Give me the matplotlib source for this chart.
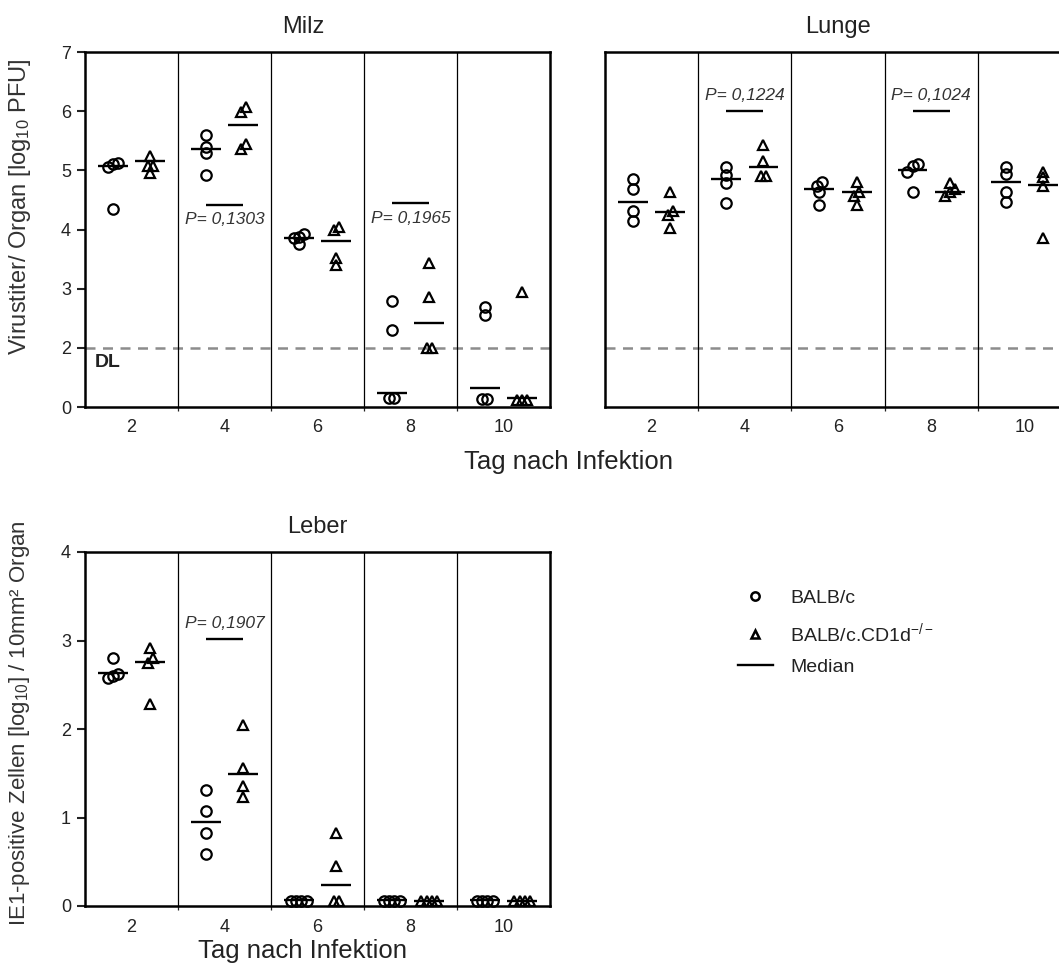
import numpy as np
import matplotlib
matplotlib.use("Agg")
import matplotlib.pyplot as plt
from matplotlib.lines import Line2D

plt.rcParams['font.family'] = ['Liberation Sans', 'DejaVu Sans']
plt.rcParams['mathtext.fontset'] = 'custom'
plt.rcParams['mathtext.rm'] = 'Liberation Sans'
plt.rcParams['mathtext.it'] = 'Liberation Sans:italic'
plt.rcParams['text.color'] = '#222222'
plt.rcParams['xtick.color'] = '#222222'
plt.rcParams['ytick.color'] = '#222222'

# Tage nach Infektion
days = [2, 4, 6, 8, 10]

# Milz: Virustiter [log10 PFU], Werte unter DL nahe 0
milz_balbc = [[5.10, 5.05, 5.12, 4.35], [5.60, 5.40, 5.30, 4.92], [3.92, 3.85, 3.88, 3.75],
              [2.80, 2.30, 0.30, 0.30], [2.69, 2.56, 0.27, 0.27]]
milz_balbc_med = [5.08, 5.36, 3.86, 0.47, 0.64]
milz_cd1d = [[5.24, 5.07, 5.07, 4.96], [6.07, 5.98, 5.44, 5.36], [4.05, 4.00, 3.52, 3.40],
             [3.44, 2.86, 2.00, 2.00], [2.95, 0.24, 0.24, 0.24]]
milz_cd1d_med = [5.15, 5.76, 3.80, 2.42, 0.30]

# Lunge
lunge_balbc = [[4.85, 4.68, 4.31, 4.14], [5.05, 4.92, 4.78, 4.44], [4.81, 4.73, 4.63, 4.42],
               [5.10, 5.07, 4.98, 4.63], [5.05, 4.93, 4.64, 4.46]]
lunge_balbc_med = [4.47, 4.85, 4.68, 5.00, 4.80]
lunge_cd1d = [[4.64, 4.31, 4.25, 4.02], [5.42, 5.15, 4.90, 4.90], [4.81, 4.64, 4.56, 4.42],
              [4.78, 4.68, 4.64, 4.56], [4.98, 4.88, 4.73, 3.86]]
lunge_cd1d_med = [4.29, 5.05, 4.63, 4.64, 4.76]

# Leber: IE1-positive Zellen [log10] / 10mm2
leber_balbc = [[2.80, 2.62, 2.60, 2.58], [1.31, 1.07, 0.83, 0.59], [0.06, 0.06, 0.06, 0.06],
               [0.06, 0.06, 0.06, 0.06], [0.06, 0.06, 0.06, 0.06]]
leber_balbc_med = [2.63, 0.95, 0.07, 0.07, 0.07]
leber_cd1d = [[2.92, 2.80, 2.75, 2.28], [2.04, 1.56, 1.36, 1.23], [0.82, 0.45, 0.06, 0.06],
              [0.06, 0.06, 0.06, 0.06], [0.06, 0.06, 0.06, 0.06]]
leber_cd1d_med = [2.76, 1.49, 0.24, 0.06, 0.06]

# P-Werte (Index des Tages, Hoehe der Linie, Text)
milz_p_idx, milz_p_y, milz_p_txt = [1, 3], [4.42, 4.44], ['P= 0,1303', 'P= 0,1965']
lunge_p_idx, lunge_p_y, lunge_p_txt = [1, 3], [6.0, 6.0], ['P= 0,1224', 'P= 0,1024']
leber_p_idx, leber_p_y, leber_p_txt = [1], [3.02], ['P= 0,1907']

detection_limit = 2


def spread(vals, tol=0.1, step=0.055):
    # gleiche Werte nebeneinander legen
    vals = np.asarray(vals, float)
    order = np.argsort(vals)
    offs = np.zeros(len(vals))
    groups = [[order[0]]]
    for i in order[1:]:
        if vals[i] - vals[groups[-1][-1]] < tol:
            groups[-1].append(i)
        else:
            groups.append([i])
    for g in groups:
        offs[g] = (np.arange(len(g)) - (len(g) - 1) / 2) * step
    return offs


def draw_panel(ax, balbc, balbc_med, cd1d, cd1d_med):
    for i in range(len(days)):
        for vals, med, dx, mk in ((balbc[i], balbc_med[i], -0.2, 'o'),
                                  (cd1d[i], cd1d_med[i], 0.2, '^')):
            xs = i + dx + spread(vals)
            ax.plot(xs, vals, ls='none', marker=mk, ms=7.5, mfc='none', mec='k',
                    mew=1.6, clip_on=False, zorder=3)
            ax.hlines(med, i + dx - 0.16, i + dx + 0.16, color='k', lw=1.7, zorder=4)
    ax.set_xlim(-0.5, len(days) - 0.5)
    ax.set_xticks(range(len(days)), [str(d) for d in days])
    bounds = np.arange(0.5, len(days) - 1)
    ax.set_xticks(bounds, minor=True)
    for b in bounds:
        ax.axvline(b, color='k', lw=0.9, zorder=1)
    ax.tick_params(axis='x', which='major', length=0, labelsize=13, pad=9)
    ax.tick_params(axis='x', which='minor', length=3, width=0.9, direction='out')
    ax.tick_params(axis='y', length=6, width=1.5, labelsize=13, pad=4)
    for s in ax.spines.values():
        s.set_linewidth(1.8)


def p_marks(ax, idx, ys, txts, above):
    for i, y, t in zip(idx, ys, txts):
        ax.hlines(y, i - 0.2, i + 0.2, color='k', lw=1.7)
        ax.annotate(t, (i, y), xytext=(0, 11 if above else -11), textcoords='offset points',
                    ha='center', va='center', fontsize=12.5, style='italic', color='#333333')


def fwd(y):
    y = np.asarray(y, float)
    return np.where(y >= 2, y, 1 + y / 2)


def inv(d):
    d = np.asarray(d, float)
    return np.where(d >= 2, d, (d - 1) * 2)


fig = plt.figure(figsize=(10.59, 9.67), dpi=100)
W, H = 1059, 967
ax_milz = fig.add_axes([85 / W, 1 - 407 / H, 465 / W, 355 / H])
ax_lunge = fig.add_axes([605 / W, 1 - 407 / H, 466 / W, 355 / H])
ax_leber = fig.add_axes([85 / W, 1 - 906 / H, 465 / W, 354 / H])

for ax in (ax_milz, ax_lunge):
    ax.set_yscale('function', functions=(fwd, inv))
    ax.set_ylim(0, 7)
    ax.set_yticks([0, 2, 3, 4, 5, 6, 7])
    ax.axhline(detection_limit, color='#8c8c8c', lw=1.8, ls=(0, (4, 3)), zorder=1)

draw_panel(ax_milz, milz_balbc, milz_balbc_med, milz_cd1d, milz_cd1d_med)
draw_panel(ax_lunge, lunge_balbc, lunge_balbc_med, lunge_cd1d, lunge_cd1d_med)
draw_panel(ax_leber, leber_balbc, leber_balbc_med, leber_cd1d, leber_cd1d_med)

p_marks(ax_milz, milz_p_idx, milz_p_y, milz_p_txt, above=False)
p_marks(ax_lunge, lunge_p_idx, lunge_p_y, lunge_p_txt, above=True)
p_marks(ax_leber, leber_p_idx, leber_p_y, leber_p_txt, above=True)

ax_lunge.tick_params(axis='y', left=False, labelleft=False)
ax_milz.text(-0.4, 1.5, 'DL', fontsize=14, fontweight='bold', va='center', color='#222222')

ax_leber.set_ylim(0, 4)
ax_leber.set_yticks([0, 1, 2, 3, 4])

ax_milz.set_title('Milz', fontsize=17, pad=14, x=0.47)
ax_lunge.set_title('Lunge', fontsize=17, pad=14)
ax_leber.set_title('Leber', fontsize=17, pad=14)

ax_milz.set_ylabel(r'Virustiter/ Organ [log$_{10}$ PFU]', fontsize=17, color='#333333')
ax_milz.yaxis.set_label_coords(-0.112, 0.565)
ax_leber.set_ylabel(r'IE1-positive Zellen [log$_{10}$] / 10mm² Organ', fontsize=16, color='#333333')
ax_leber.yaxis.set_label_coords(-0.114, 0.517)

fig.text(568 / W, 1 - 462 / H, 'Tag nach Infektion', fontsize=18.5, ha='center', va='center')
fig.text(302 / W, 1 - 951 / H, 'Tag nach Infektion', fontsize=18.5, ha='center', va='center')

handles = [Line2D([], [], ls='none', marker='o', ms=6, mfc='none', mec='k', mew=1.8),
           Line2D([], [], ls='none', marker='^', ms=6, mfc='none', mec='k', mew=1.8),
           Line2D([], [], color='k', lw=1.7)]
labels = ['BALB/c', r'BALB/c.CD1d$^{-/-}$', 'Median']
fig.legend(handles, labels, loc='upper left', bbox_to_anchor=(720 / W, 1 - 572 / H),
           frameon=False, fontsize=14, handlelength=1.8, labelspacing=0.7, handletextpad=0.9)

fig.savefig('out.png', dpi=100)
